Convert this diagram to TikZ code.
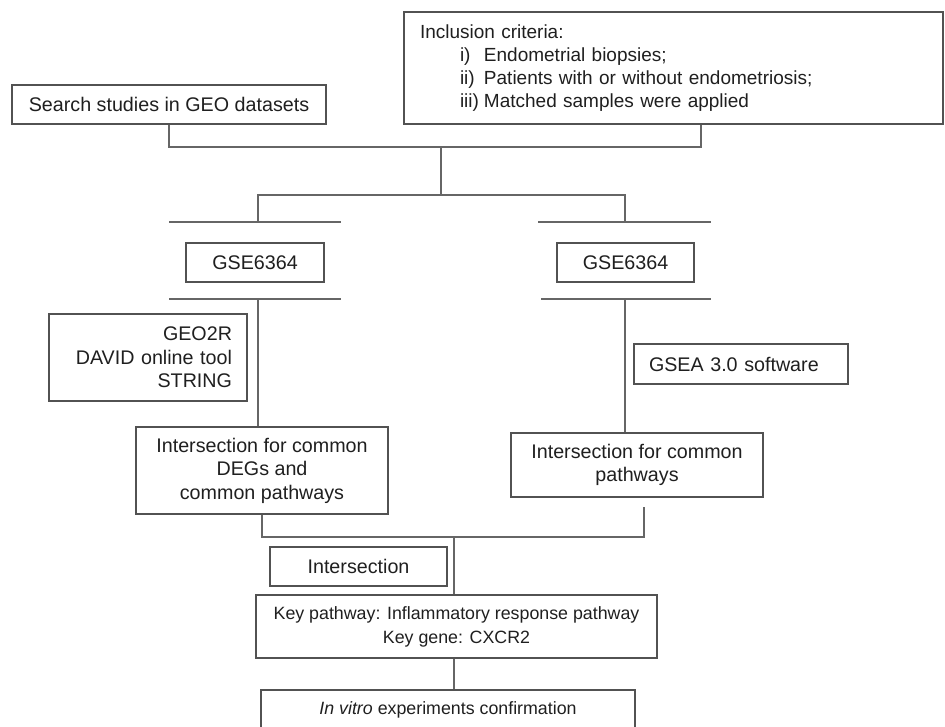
\documentclass[tikz,border=0pt]{standalone}
\usepackage{fontspec}
\setmainfont{Liberation Sans}
\usetikzlibrary{positioning}
\newcommand{\critem}[2]{\hspace*{40pt}\makebox[24pt][l]{#1}#2}

\begin{document}
\begin{tikzpicture}[x=1pt,y=-1pt,
	box/.style={draw=black!68, line width=1.3pt, rectangle, inner sep=0pt, text=black!88, font=\fontsize{19.7}{23.5}\selectfont},
	small/.style={font=\fontsize{17.8}{24}\selectfont},
	link/.style={draw=black!60, line width=1.2pt}]
	\useasboundingbox (0,0) rectangle (945,727);

	\node[box, minimum width=314pt, minimum height=39pt] (search) at (169,104.5) {Search studies in GEO datasets};
	\node[box, minimum width=539pt, minimum height=112pt, align=left, text width=507pt, font=\fontsize{19}{23}\selectfont] (incl) at (673.5,68) {Inclusion criteria:\\
		\critem{i)}{Endometrial biopsies;}\\
		\critem{ii)}{Patients with or without endometriosis;}\\
		\critem{iii)}{Matched samples were applied}};

	\node[box, minimum width=138pt, minimum height=39pt] (gseL) at (255,262.5) {GSE6364};
	\node[box, minimum width=137pt, minimum height=39pt] (gseR) at (625.5,262.5) {GSE6364};

	\node[box, minimum width=198pt, minimum height=87pt, align=right, text width=168pt] (tools) at (148,357.5) {GEO2R\\DAVID online tool\\STRING};
	\node[box, minimum width=214pt, minimum height=40pt, align=left, text width=184pt] (gsea) at (741,364) {GSEA 3.0 software};

	\node[box, minimum width=252pt, minimum height=87pt, align=center] (comL) at (262,470.5) {Intersection for common\\DEGs and\\common pathways};
	\node[box, minimum width=252pt, minimum height=64pt, align=center] (comR) at (637,465) {Intersection for common\\pathways};

	\node[box, minimum width=177pt, minimum height=39pt] (inter) at (358.5,566.5) {Intersection};
	\node[box, small, minimum width=401pt, minimum height=63pt, align=center] (key) at (456.5,626.5) {Key pathway: Inflammatory response pathway\\Key gene: CXCR2};
	\node[box, small, minimum width=374pt, minimum height=40pt] (vitro) at (448,710) {\textit{In vitro} experiments confirmation};

	% junctions
	\coordinate (merge) at (441,147);
	\coordinate (split) at (441,195);
	\coordinate (topL) at (258,222);
	\coordinate (topR) at (625,222);
	\coordinate (botL) at (258,299);
	\coordinate (botR) at (625,299);
	\coordinate (join) at (454,537);
	\coordinate (gapR) at (644,507);

	\path[link] (search.south) |- (merge) -| ([xshift=27.5pt]incl.south);
	\path[link] (merge) -- (split);
	\path[link] (topL) |- (split) -| (topR);

	% bars round the datasets
	\path[link] (169,222) -- (341,222);
	\path[link] (538,222) -- (711,222);
	\path[link] (169,299) -- (341,299);
	\path[link] (541,299) -- (711,299);

	\path[link] (botL) -- (botL |- comL.north);
	\path[link] (botR) -- (botR |- comR.north);
	\path[link] (comL.south) |- (join) -| (gapR);
	\path[link] (join) -- (join |- key.north);
	\path[link] (join |- key.south) -- (join |- vitro.north);
\end{tikzpicture}
\end{document}
